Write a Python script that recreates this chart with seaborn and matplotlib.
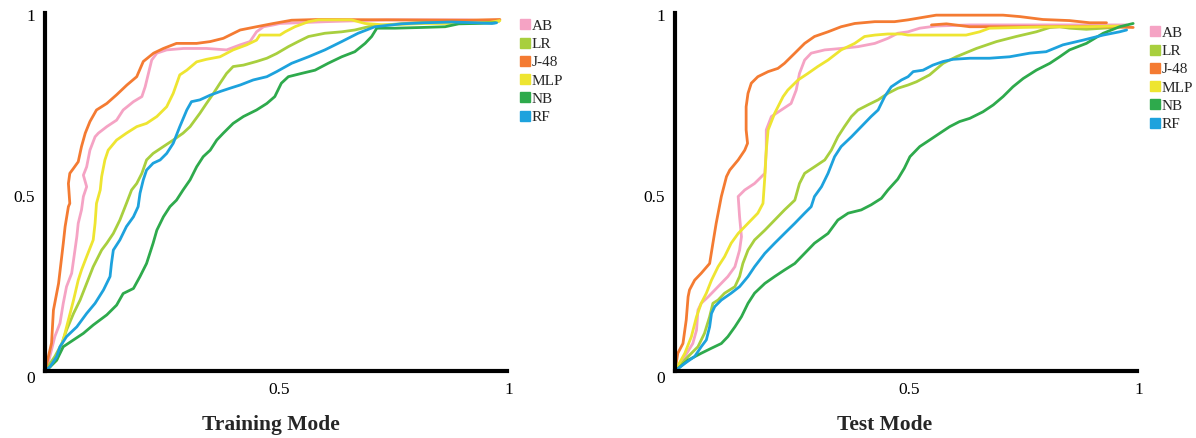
import matplotlib
matplotlib.use("Agg")
import matplotlib.pyplot as plt
import seaborn as sns
import pandas as pd
from matplotlib.lines import Line2D

models = ["AB", "LR", "J-48", "MLP", "NB", "RF"]
panel_titles = ["Training Mode", "Test Mode"]
palette = {"AB": "#F5A3C4", "LR": "#A8CF3E", "J-48": "#F47B32",
           "MLP": "#EEE531", "NB": "#2EAA4C", "RF": "#1DA2DD"}

# ---------------- Training mode ROC curves ----------------
train_ab_fpr = [0, 0.004, 0.021, 0.032, 0.039, 0.046, 0.057, 0.064, 0.068, 0.071, 0.078, 0.082, 0.089, 0.082,
                0.089, 0.096, 0.107, 0.114, 0.132, 0.153, 0.167, 0.189, 0.207, 0.214, 0.221, 0.228, 0.239, 0.260,
                0.296, 0.345, 0.388, 0.417, 0.438, 0.452, 0.467, 0.488, 0.502, 0.60, 0.73, 0.90, 0.965]
train_ab_tpr = [0, 0.007, 0.095, 0.132, 0.187, 0.233, 0.270, 0.334, 0.371, 0.408, 0.445, 0.482, 0.509, 0.541,
                0.564, 0.610, 0.647, 0.657, 0.675, 0.693, 0.721, 0.744, 0.758, 0.785, 0.822, 0.859, 0.878, 0.887,
                0.891, 0.891, 0.887, 0.901, 0.910, 0.937, 0.951, 0.956, 0.960, 0.965, 0.970, 0.970, 0.966]

train_lr_fpr = [0, 0.021, 0.036, 0.046, 0.061, 0.075, 0.089, 0.103, 0.121, 0.132, 0.146, 0.160, 0.174, 0.185,
                0.196, 0.207, 0.217, 0.231, 0.253, 0.274, 0.295, 0.310, 0.331, 0.345, 0.360, 0.374, 0.388, 0.402,
                0.424, 0.452, 0.474, 0.495, 0.520, 0.541, 0.563, 0.598, 0.634, 0.662, 0.691, 0.726, 0.791, 0.848,
                0.890, 0.933, 0.970]
train_lr_tpr = [0, 0.040, 0.076, 0.113, 0.159, 0.196, 0.242, 0.288, 0.334, 0.353, 0.380, 0.417, 0.463, 0.500,
                0.518, 0.546, 0.583, 0.601, 0.620, 0.638, 0.657, 0.675, 0.712, 0.739, 0.767, 0.795, 0.822, 0.841,
                0.845, 0.855, 0.864, 0.877, 0.896, 0.910, 0.924, 0.933, 0.937, 0.942, 0.951, 0.956, 0.962, 0.965,
                0.962, 0.962, 0.966]

train_j48_fpr = [0, 0.014, 0.018, 0.029, 0.039, 0.043, 0.050, 0.053, 0.050, 0.053, 0.061, 0.071, 0.078, 0.086,
                 0.096, 0.110, 0.132, 0.153, 0.175, 0.196, 0.210, 0.232, 0.253, 0.281, 0.324, 0.353, 0.381, 0.417,
                 0.452, 0.488, 0.527, 0.584, 0.750, 0.900, 0.972]
train_j48_tpr = [0, 0.077, 0.168, 0.242, 0.352, 0.399, 0.454, 0.463, 0.518, 0.546, 0.560, 0.578, 0.620, 0.657,
                 0.689, 0.721, 0.739, 0.763, 0.790, 0.813, 0.855, 0.878, 0.891, 0.905, 0.905, 0.910, 0.919, 0.942,
                 0.951, 0.960, 0.969, 0.971, 0.970, 0.969, 0.971]

train_mlp_fpr = [0, 0.004, 0.025, 0.039, 0.050, 0.061, 0.071, 0.078, 0.089, 0.103, 0.107, 0.110, 0.118, 0.121,
                 0.128, 0.135, 0.153, 0.174, 0.196, 0.217, 0.239, 0.260, 0.274, 0.288, 0.303, 0.324, 0.345, 0.374,
                 0.402, 0.431, 0.452, 0.459, 0.502, 0.513, 0.534, 0.563, 0.584, 0.655, 0.684, 0.726, 0.812, 0.890,
                 0.947, 0.972]
train_mlp_tpr = [0, 0.003, 0.030, 0.086, 0.141, 0.196, 0.251, 0.279, 0.316, 0.362, 0.408, 0.463, 0.500, 0.537,
                 0.583, 0.610, 0.638, 0.657, 0.675, 0.684, 0.703, 0.730, 0.767, 0.818, 0.831, 0.854, 0.861, 0.868,
                 0.887, 0.901, 0.914, 0.928, 0.928, 0.937, 0.951, 0.965, 0.970, 0.970, 0.960, 0.956, 0.960, 0.960,
                 0.962, 0.968]

train_nb_fpr = [0, 0.004, 0.025, 0.039, 0.061, 0.082, 0.103, 0.132, 0.153, 0.167, 0.189, 0.203, 0.217, 0.231,
                0.239, 0.253, 0.267, 0.281, 0.295, 0.310, 0.324, 0.338, 0.353, 0.367, 0.381, 0.402, 0.424, 0.452,
                0.474, 0.491, 0.505, 0.520, 0.548, 0.577, 0.605, 0.634, 0.662, 0.684, 0.698, 0.709, 0.748, 0.805,
                0.855, 0.884, 0.919, 0.962]
train_nb_tpr = [0, 0.003, 0.030, 0.067, 0.086, 0.104, 0.127, 0.155, 0.182, 0.214, 0.228, 0.261, 0.297, 0.353,
                0.389, 0.426, 0.454, 0.472, 0.500, 0.528, 0.564, 0.592, 0.610, 0.638, 0.657, 0.684, 0.703, 0.721,
                0.739, 0.758, 0.795, 0.813, 0.822, 0.831, 0.850, 0.868, 0.882, 0.905, 0.924, 0.947, 0.947, 0.949,
                0.951, 0.959, 0.960, 0.962]

train_rf_fpr = [0, 0.011, 0.025, 0.032, 0.046, 0.068, 0.089, 0.107, 0.125, 0.139, 0.142, 0.146, 0.160, 0.174,
                0.189, 0.199, 0.203, 0.210, 0.217, 0.231, 0.246, 0.260, 0.274, 0.288, 0.303, 0.313, 0.331, 0.353,
                0.374, 0.395, 0.417, 0.445, 0.474, 0.495, 0.527, 0.563, 0.598, 0.634, 0.669, 0.705, 0.762, 0.812,
                0.869, 0.919, 0.955, 0.965]
train_rf_tpr = [0, 0.012, 0.040, 0.067, 0.095, 0.122, 0.159, 0.187, 0.224, 0.261, 0.297, 0.334, 0.362, 0.399,
                0.426, 0.454, 0.491, 0.528, 0.555, 0.574, 0.583, 0.601, 0.629, 0.675, 0.721, 0.744, 0.749, 0.762,
                0.772, 0.781, 0.790, 0.804, 0.813, 0.827, 0.850, 0.868, 0.887, 0.910, 0.933, 0.951, 0.959, 0.962,
                0.964, 0.962, 0.960, 0.962]

# ---------------- Test mode ROC curves ----------------
test_ab_fpr = [0, 0.021, 0.038, 0.046, 0.049, 0.056, 0.071, 0.092, 0.113, 0.128, 0.138, 0.142, 0.138, 0.135,
               0.149, 0.170, 0.192, 0.195, 0.195, 0.206, 0.227, 0.248, 0.259, 0.266, 0.277, 0.291, 0.320, 0.355,
               0.391, 0.427, 0.455, 0.476, 0.498, 0.523, 0.558, 0.630, 0.772, 0.915, 0.965]
test_ab_tpr = [0, 0.040, 0.076, 0.113, 0.168, 0.187, 0.205, 0.233, 0.261, 0.288, 0.334, 0.371, 0.426, 0.482,
               0.500, 0.518, 0.546, 0.610, 0.666, 0.703, 0.721, 0.739, 0.776, 0.822, 0.859, 0.878, 0.887, 0.891,
               0.896, 0.905, 0.919, 0.933, 0.937, 0.947, 0.953, 0.956, 0.956, 0.956, 0.956]

test_lr_fpr = [0, 0.028, 0.049, 0.063, 0.074, 0.081, 0.092, 0.106, 0.128, 0.138, 0.145, 0.156, 0.170, 0.192,
               0.213, 0.234, 0.256, 0.266, 0.277, 0.298, 0.320, 0.334, 0.348, 0.362, 0.377, 0.391, 0.412, 0.434,
               0.455, 0.476, 0.498, 0.516, 0.544, 0.573, 0.601, 0.644, 0.687, 0.729, 0.772, 0.801, 0.822, 0.843,
               0.879, 0.915, 0.957]
test_lr_tpr = [0, 0.040, 0.067, 0.104, 0.150, 0.187, 0.196, 0.215, 0.233, 0.261, 0.297, 0.334, 0.362, 0.389,
               0.417, 0.445, 0.472, 0.518, 0.546, 0.564, 0.583, 0.610, 0.647, 0.675, 0.703, 0.721, 0.735, 0.749,
               0.767, 0.781, 0.790, 0.799, 0.818, 0.850, 0.868, 0.891, 0.910, 0.924, 0.937, 0.949, 0.951, 0.947,
               0.944, 0.947, 0.951]

test_j48_fpr = [0, 0.006, 0.017, 0.024, 0.028, 0.031, 0.042, 0.056, 0.074, 0.081, 0.088, 0.099, 0.110, 0.117,
                0.135, 0.149, 0.155, 0.152, 0.152, 0.156, 0.163, 0.177, 0.199, 0.220, 0.234, 0.256, 0.277, 0.298,
                0.327, 0.355, 0.384, 0.427, 0.469, 0.498, 0.530, 0.558, 0.630, 0.701, 0.737, 0.786, 0.843, 0.886,
                0.922]
test_j48_tpr = [0, 0.049, 0.076, 0.141, 0.205, 0.224, 0.251, 0.270, 0.297, 0.353, 0.408, 0.482, 0.537, 0.555,
                0.583, 0.610, 0.629, 0.666, 0.730, 0.767, 0.795, 0.813, 0.827, 0.836, 0.850, 0.878, 0.905, 0.924,
                0.937, 0.951, 0.960, 0.965, 0.965, 0.970, 0.977, 0.983, 0.983, 0.983, 0.979, 0.971, 0.968, 0.962,
                0.962]
# second orange trace visible under the AB curve near the top
test_j48b_fpr = [0.548, 0.580, 0.630, 0.772, 0.915, 0.979]
test_j48b_tpr = [0.956, 0.959, 0.951, 0.951, 0.951, 0.949]

test_mlp_fpr = [0, 0.021, 0.035, 0.046, 0.056, 0.067, 0.078, 0.092, 0.106, 0.120, 0.135, 0.156, 0.177, 0.188,
                0.192, 0.195, 0.199, 0.213, 0.231, 0.241, 0.263, 0.284, 0.305, 0.327, 0.355, 0.384, 0.405, 0.427,
                0.455, 0.484, 0.498, 0.558, 0.622, 0.651, 0.672, 0.737, 0.808, 0.879, 0.950]
test_mlp_tpr = [0, 0.049, 0.095, 0.150, 0.187, 0.215, 0.251, 0.288, 0.316, 0.353, 0.380, 0.408, 0.436, 0.463,
                0.537, 0.610, 0.666, 0.712, 0.758, 0.776, 0.804, 0.822, 0.841, 0.859, 0.887, 0.905, 0.924, 0.928,
                0.931, 0.931, 0.928, 0.928, 0.928, 0.937, 0.947, 0.949, 0.951, 0.951, 0.953]

test_nb_fpr = [0, 0.028, 0.056, 0.078, 0.099, 0.113, 0.128, 0.142, 0.156, 0.170, 0.192, 0.213, 0.234, 0.256,
               0.277, 0.298, 0.327, 0.348, 0.370, 0.398, 0.419, 0.441, 0.455, 0.476, 0.490, 0.502, 0.523, 0.544,
               0.566, 0.587, 0.608, 0.630, 0.658, 0.680, 0.701, 0.722, 0.744, 0.772, 0.801, 0.822, 0.843, 0.879,
               0.915, 0.950, 0.979]
test_nb_tpr = [0, 0.030, 0.049, 0.063, 0.076, 0.095, 0.122, 0.150, 0.187, 0.215, 0.242, 0.261, 0.279, 0.297,
               0.325, 0.353, 0.380, 0.417, 0.436, 0.445, 0.459, 0.477, 0.500, 0.530, 0.560, 0.592, 0.620, 0.638,
               0.657, 0.675, 0.689, 0.698, 0.716, 0.735, 0.758, 0.785, 0.808, 0.831, 0.850, 0.868, 0.887, 0.905,
               0.933, 0.951, 0.960]

test_rf_fpr = [0, 0.021, 0.042, 0.056, 0.067, 0.074, 0.078, 0.085, 0.099, 0.120, 0.138, 0.156, 0.170, 0.192,
               0.213, 0.234, 0.256, 0.277, 0.291, 0.298, 0.313, 0.327, 0.341, 0.355, 0.377, 0.398, 0.419, 0.434,
               0.448, 0.462, 0.484, 0.498, 0.509, 0.530, 0.551, 0.573, 0.594, 0.630, 0.672, 0.715, 0.758, 0.793,
               0.829, 0.872, 0.915, 0.950, 0.965]
test_rf_tpr = [0, 0.021, 0.040, 0.067, 0.086, 0.122, 0.159, 0.178, 0.196, 0.215, 0.233, 0.261, 0.288, 0.325,
               0.353, 0.380, 0.408, 0.436, 0.454, 0.482, 0.509, 0.546, 0.592, 0.620, 0.647, 0.675, 0.703, 0.721,
               0.758, 0.785, 0.804, 0.813, 0.827, 0.831, 0.845, 0.855, 0.861, 0.864, 0.864, 0.868, 0.878, 0.882,
               0.901, 0.914, 0.928, 0.937, 0.942]

curves = {
    "Training Mode": [
        ("AB", "AB", train_ab_fpr, train_ab_tpr),
        ("LR", "LR", train_lr_fpr, train_lr_tpr),
        ("J-48", "J-48", train_j48_fpr, train_j48_tpr),
        ("MLP", "MLP", train_mlp_fpr, train_mlp_tpr),
        ("NB", "NB", train_nb_fpr, train_nb_tpr),
        ("RF", "RF", train_rf_fpr, train_rf_tpr),
    ],
    "Test Mode": [
        ("AB", "AB", test_ab_fpr, test_ab_tpr),
        ("LR", "LR", test_lr_fpr, test_lr_tpr),
        ("J-48", "J-48", test_j48_fpr, test_j48_tpr),
        ("J-48", "J-48b", test_j48b_fpr, test_j48b_tpr),
        ("MLP", "MLP", test_mlp_fpr, test_mlp_tpr),
        ("NB", "NB", test_nb_fpr, test_nb_tpr),
        ("RF", "RF", test_rf_fpr, test_rf_tpr),
    ],
}

rows = []
for panel, lst in curves.items():
    for model, seg, fx, ty in lst:
        for i, (a, b) in enumerate(zip(fx, ty)):
            rows.append({"panel": panel, "model": model, "seg": seg, "order": i, "fpr": a, "tpr": b})
df = pd.DataFrame(rows)

sns.set_style("white")
SERIF = ["Liberation Serif", "DejaVu Serif"]
plt.rcParams["font.family"] = SERIF

W, H = 1196, 438
fig = plt.figure(figsize=(W / 100, H / 100), dpi=100)

panel_px = {"Training Mode": 45, "Test Mode": 675}
legend_px = {"Training Mode": (520, 19), "Test Mode": (1150, 26)}
title_px = {"Training Mode": 271, "Test Mode": 885}

for panel in panel_titles:
    x0 = panel_px[panel]
    ax = fig.add_axes([x0 / W, 1 - 371 / H, 468 / W, 362 / H])
    sub = df[df["panel"] == panel]
    sns.lineplot(data=sub, x="fpr", y="tpr", hue="model", units="seg", estimator=None,
                 sort=False, palette=palette, hue_order=models, linewidth=2.0,
                 legend=False, ax=ax)
    ax.set_xlim(0, 1)
    ax.set_ylim(0, 1)
    ax.set_xlabel("")
    ax.set_ylabel("")
    for s in ["top", "right"]:
        ax.spines[s].set_visible(False)
    for s in ["left", "bottom"]:
        ax.spines[s].set_linewidth(3.0)
        ax.spines[s].set_color("black")
    ax.spines["left"].set_bounds(0, 0.99)
    ax.spines["bottom"].set_bounds(0, 0.988)

    ax.set_yticks([0, 0.5, 1])
    ax.set_yticklabels(["0", "0.5", "1"], va="top")
    ax.set_xticks([0.5, 1])
    ax.set_xticklabels(["0.5", "1"])
    ax.get_xticklabels()[1].set_ha("right")
    ax.tick_params(axis="both", direction="inout", length=6, width=1.0, color="#8a8a8a",
                   labelsize=12.5, labelcolor="black")
    ax.tick_params(axis="y", pad=4)
    ax.tick_params(axis="x", pad=5)
    yt = ax.yaxis.get_major_ticks()
    yt[0].tick1line.set_visible(False)
    yt[2].tick1line.set_visible(False)
    ax.xaxis.get_major_ticks()[1].tick1line.set_visible(False)
    ax.set_facecolor("white")

    handles = [Line2D([], [], marker="s", linestyle="None", markersize=6.5,
                      markerfacecolor=palette[m], markeredgecolor=palette[m]) for m in models]
    lx, ly = legend_px[panel]
    fig.legend(handles, models, loc="upper left", bbox_to_anchor=(lx / W, 1 - ly / H),
               frameon=False, fontsize=11, handlelength=0.6, handletextpad=0.15,
               labelspacing=0.3, borderpad=0, borderaxespad=0)

    fig.text(title_px[panel] / W, 1 - 425 / H, panel, ha="center", va="center",
             fontsize=15.5, fontweight="bold")

fig.savefig("out.png", dpi=100, facecolor="white")
